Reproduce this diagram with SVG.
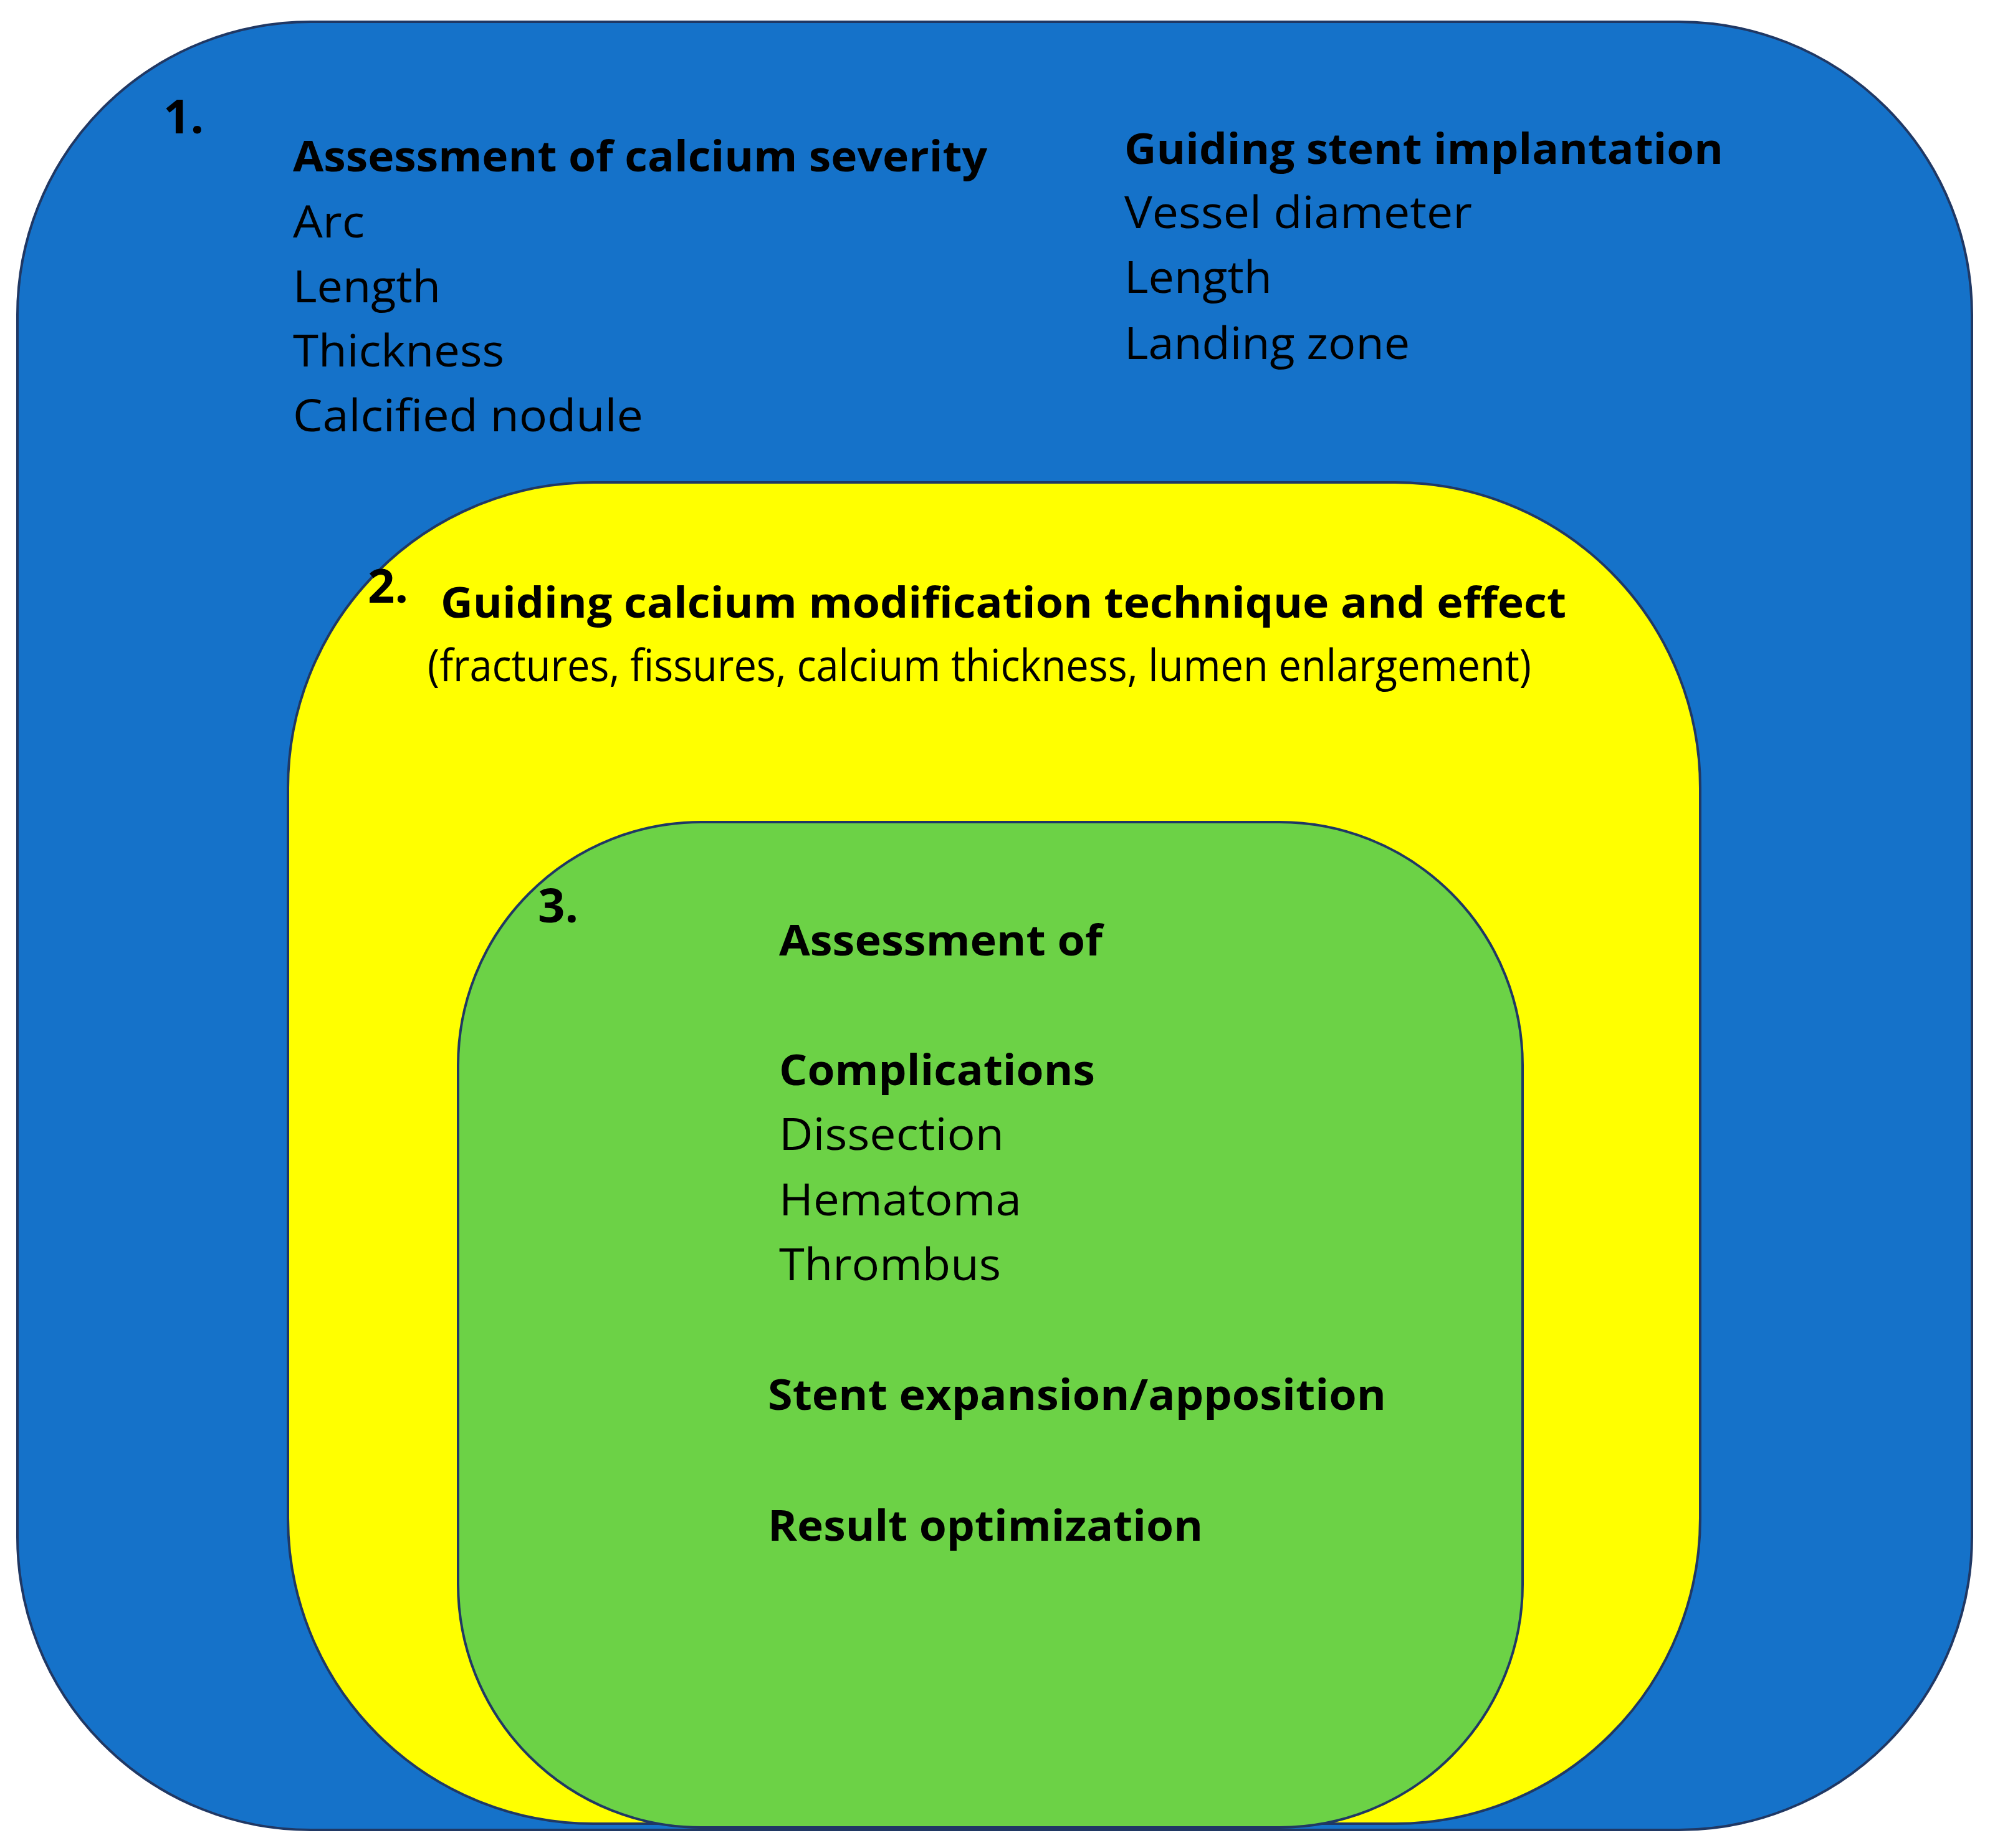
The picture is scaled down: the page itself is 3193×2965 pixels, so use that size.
<svg xmlns="http://www.w3.org/2000/svg" width="3193" height="2965" viewBox="0 0 3193 2965">
<style>
.b{stroke:#203864;stroke-width:4}
text{font-family:"Open Sans","Liberation Sans",sans-serif;font-size:71px;fill:#000}
.h{font-weight:bold;font-size:68px}
.n{font-weight:bold;font-size:76px}
</style>
<rect width="3193" height="2965" fill="#fff"/>
<g id="node1">
<rect class="b" x="28" y="35" width="3136" height="2901" rx="470" ry="470" fill="#1572C9"/>
<text class="n" x="262" y="214">1.</text>
<text class="h" x="470" y="275" textLength="1114" lengthAdjust="spacingAndGlyphs">Assessment of calcium severity</text>
<text x="470" y="381" textLength="115" lengthAdjust="spacingAndGlyphs">Arc</text>
<text x="470" y="485" textLength="237" lengthAdjust="spacingAndGlyphs">Length</text>
<text x="470" y="588" textLength="339" lengthAdjust="spacingAndGlyphs">Thickness</text>
<text x="470" y="692" textLength="562" lengthAdjust="spacingAndGlyphs">Calcified nodule</text>
<text class="h" x="1804" y="263" textLength="961" lengthAdjust="spacingAndGlyphs">Guiding stent implantation</text>
<text x="1804" y="366" textLength="558" lengthAdjust="spacingAndGlyphs">Vessel diameter</text>
<text x="1804" y="470" textLength="237" lengthAdjust="spacingAndGlyphs">Length</text>
<text x="1804" y="576" textLength="458" lengthAdjust="spacingAndGlyphs">Landing zone</text>
</g>
<g id="node2">
<rect class="b" x="462" y="774" width="2266" height="2152" rx="490" ry="490" fill="#FFFF00"/>
<text class="n" x="590" y="967">2.</text>
<text class="h" x="707" y="991" textLength="1806" lengthAdjust="spacingAndGlyphs">Guiding calcium modification technique and effect</text>
<text x="686" y="1093" font-size="60" textLength="1771" lengthAdjust="spacingAndGlyphs">(fractures, fissures, calcium thickness, lumen enlargement)</text>
</g>
<g id="node3">
<rect class="b" x="735" y="1319" width="1708" height="1613" rx="390" ry="390" fill="#6CD246"/>
<text class="n" x="863" y="1480">3.</text>
<text class="h" x="1250" y="1533" textLength="519" lengthAdjust="spacingAndGlyphs">Assessment of</text>
<text class="h" x="1250" y="1741" textLength="507" lengthAdjust="spacingAndGlyphs">Complications</text>
<text x="1250" y="1845" textLength="361" lengthAdjust="spacingAndGlyphs">Dissection</text>
<text x="1250" y="1950" textLength="389" lengthAdjust="spacingAndGlyphs">Hematoma</text>
<text x="1250" y="2054" textLength="356" lengthAdjust="spacingAndGlyphs">Thrombus</text>
<text class="h" x="1232" y="2262" textLength="992" lengthAdjust="spacingAndGlyphs">Stent expansion/apposition</text>
<text class="h" x="1232" y="2472" textLength="698" lengthAdjust="spacingAndGlyphs">Result optimization</text>
</g>
<g id="connectors"/>
</svg>
